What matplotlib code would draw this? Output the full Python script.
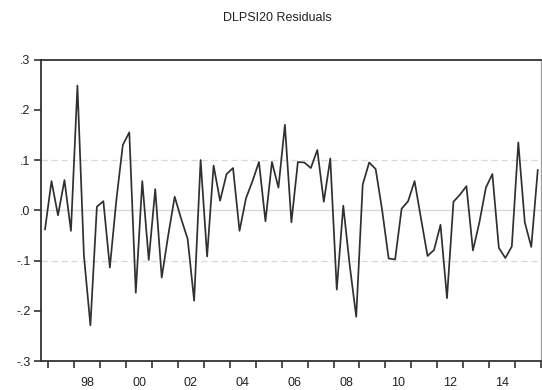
import matplotlib
matplotlib.use("Agg")
import matplotlib.pyplot as plt
import numpy as np

plt.rcParams['font.family'] = ['Liberation Sans', 'DejaVu Sans']

# Quarterly residuals, 1996Q4 .. 2015Q4
start_year = 1996
start_quarter = 4
residuals = [
    -0.038, 0.058, -0.010, 0.060, -0.041, 0.248, -0.090, -0.229, 0.007, 0.018,
    -0.114, 0.020, 0.130, 0.155, -0.164, 0.058, -0.099, 0.042, -0.134, -0.050,
    0.027, -0.017, -0.057, -0.180, 0.100, -0.092, 0.089, 0.019, 0.072, 0.084,
    -0.041, 0.024, 0.058, 0.096, -0.022, 0.096, 0.045, 0.170, -0.024, 0.096,
    0.095, 0.084, 0.120, 0.017, 0.103, -0.158, 0.009, -0.110, -0.212, 0.051,
    0.095, 0.082, 0.000, -0.096, -0.098, 0.003, 0.018, 0.058, -0.017, -0.091,
    -0.079, -0.029, -0.175, 0.017, 0.031, 0.048, -0.080, -0.024, 0.045, 0.072,
    -0.075, -0.095, -0.072, 0.135, -0.024, -0.073, 0.080,
]
year_ticks = list(range(1997, 2017))
label_years = list(range(1998, 2016, 2))
y_ticks = [0.3, 0.2, 0.1, 0.0, -0.1, -0.2, -0.3]
y_tick_labels = [".3", ".2", ".1", ".0", "-.1", "-.2", "-.3"]
title = "DLPSI20 Residuals"

# each quarter plotted at its midpoint
t = start_year + (start_quarter - 1) * 0.25 + 0.125 + 0.25 * np.arange(len(residuals))

fig = plt.figure(figsize=(5.42, 3.90), dpi=100)
ax = fig.add_axes([41 / 542, 1 - 361 / 390, 500 / 542, 301.5 / 390])

# reference lines
ax.axhline(0.0, color="#d9d9d9", lw=1.0, zorder=1)
for v in (0.1, -0.1):
    ax.axhline(v, color="#d9d9d9", lw=0.9, ls=(0, (5, 3)), zorder=1)

ax.plot(t, residuals, color="#303030", lw=1.25, zorder=3)

ax.set_xlim(1996.72, 2016.0)
ax.set_ylim(-0.3, 0.3)

text_color = "#222222"
ax.set_yticks(y_ticks)
ax.set_yticklabels(y_tick_labels)
ax.set_xticks(year_ticks)
ax.set_xticklabels([])
ax.set_xticks([y + 0.5 for y in label_years], minor=True)
ax.set_xticklabels([f"{y % 100:02d}" for y in label_years], minor=True)

ax.tick_params(axis="both", which="major", direction="out", length=5,
               width=1.2, color="#333333", labelsize=9, pad=2.5,
               labelcolor=text_color)
ax.tick_params(axis="x", which="minor", length=0, labelsize=9, pad=11.5,
               labelcolor=text_color)

for side in ("left", "bottom", "top"):
    ax.spines[side].set_color("#333333")
    ax.spines[side].set_linewidth(1.3)
ax.spines["right"].set_color("#9a9a9a")
ax.spines["right"].set_linewidth(0.9)

fig.text(277 / 542, 1 - 18 / 390, title, ha="center", va="center",
         fontsize=9, color=text_color)

fig.savefig("out.png", dpi=100)
